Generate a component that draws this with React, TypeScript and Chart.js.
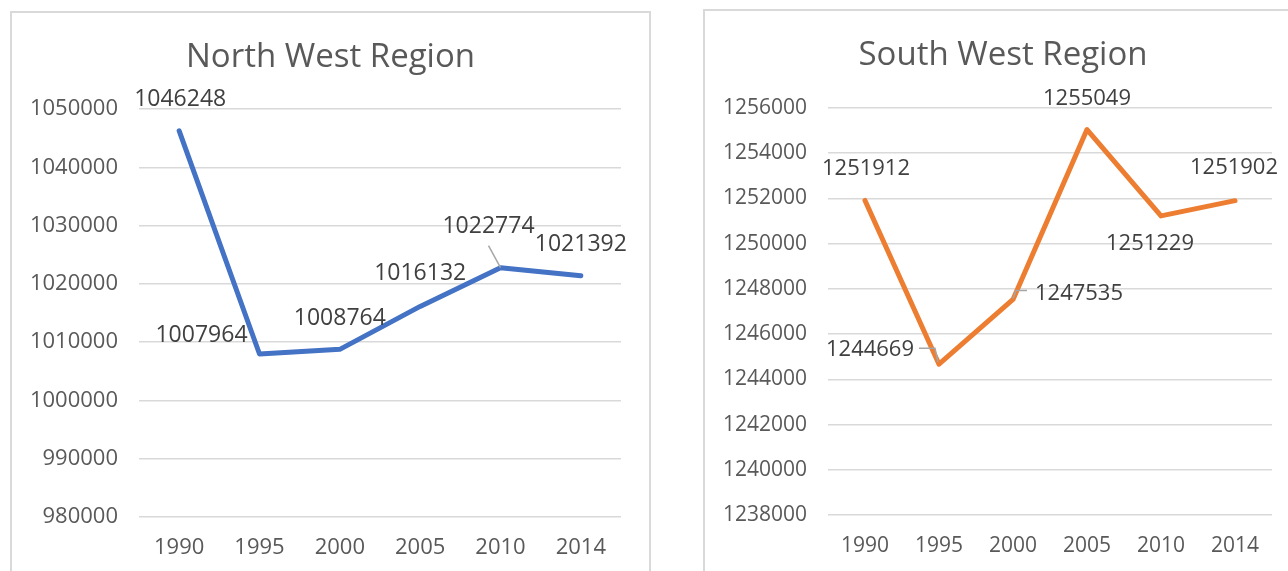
import React, { useEffect, useRef } from "react";
import { Chart, registerables } from "chart.js";

Chart.register(...registerables);

const years = ["1990", "1995", "2000", "2005", "2010", "2014"];
const northWestValues = [1046248, 1007964, 1008764, 1016132, 1022774, 1021392];
const southWestValues = [1251912, 1244669, 1247535, 1255049, 1251229, 1251902];

const northWestTitle = "North West Region";
const southWestTitle = "South West Region";

// label placement (style only): dx, dy from the point, plus optional leader polyline (relative to point)
const northWestLabelOffsets = [
  { dx: 1, dy: -31 },
  { dx: -58, dy: -19 },
  { dx: 0, dy: -31 },
  { dx: 0, dy: -33 },
  { dx: -12, dy: -41, leader: [[-12, -22], [0, 0]] },
  { dx: 0, dy: -31 },
];
const southWestLabelOffsets = [
  { dx: 1, dy: -32 },
  { dx: -69, dy: -14, leader: [[-20, -16], [-4, -16], [-1, -2]] },
  { dx: 66, dy: -6, leader: [[0, -1], [3, -9], [14, -9]] },
  { dx: 0, dy: -31 },
  { dx: -11, dy: 28 },
  { dx: -1, dy: -33 },
];

const FONT = "'Open Sans', 'Liberation Sans', sans-serif";

const dataLabelPlugin = {
  id: "excelDataLabels",
  afterDatasetsDraw(chart: any, _args: any, opts: any) {
    const ctx = chart.ctx;
    const meta = chart.getDatasetMeta(0);
    const values = chart.data.datasets[0].data as number[];
    const offsets = opts.offsets || [];
    ctx.save();
    meta.data.forEach((pt: any, i: number) => {
      const o = offsets[i] || { dx: 0, dy: -30 };
      if (o.leader) {
        ctx.beginPath();
        ctx.strokeStyle = "#a6a6a6";
        ctx.lineWidth = 1.5;
        o.leader.forEach((p: number[], k: number) => {
          const x = pt.x + p[0];
          const y = pt.y + p[1];
          if (k === 0) ctx.moveTo(x, y);
          else ctx.lineTo(x, y);
        });
        ctx.stroke();
      }
      ctx.font = `${opts.size}px ${FONT}`;
      ctx.fillStyle = "#404040";
      ctx.textAlign = "center";
      ctx.textBaseline = "middle";
      ctx.fillText(String(values[i]), pt.x + o.dx, pt.y + o.dy);
    });
    ctx.restore();
  },
};

// Excel-style title centred over the whole chart (canvas), not the plot area
const centredTitlePlugin = {
  id: "centredTitle",
  afterDraw(chart: any, _args: any, opts: any) {
    const ctx = chart.ctx;
    ctx.save();
    ctx.font = `${opts.size}px ${FONT}`;
    ctx.fillStyle = "#595959";
    ctx.textAlign = "center";
    ctx.textBaseline = "middle";
    ctx.fillText(opts.text, chart.width / 2, opts.y);
    ctx.restore();
  },
};

function makeConfig(
  title: string,
  values: number[],
  color: string,
  min: number,
  max: number,
  step: number,
  offsets: any[],
  yWidth: number,
  xHeight: number,
  padTop: number,
  padRight: number,
  fontSize: number,
  labelSize: number
): any {
  return {
    type: "line",
    data: {
      labels: years,
      datasets: [
        {
          data: values,
          borderColor: color,
          borderWidth: 5,
          pointRadius: 0,
          pointHoverRadius: 0,
          tension: 0,
          fill: false,
          borderCapStyle: "round",
          borderJoinStyle: "round",
        },
      ],
    },
    options: {
      animation: false,
      responsive: false,
      maintainAspectRatio: false,
      layout: { padding: { left: 0, right: padRight, top: padTop, bottom: 0 } },
      plugins: {
        legend: { display: false },
        tooltip: { enabled: false },
        title: { display: false },
        centredTitle: { text: title, size: 33, y: 45 },
        excelDataLabels: { offsets, size: labelSize },
      },
      scales: {
        x: {
          offset: true,
          grid: { display: false, drawTicks: false },
          border: { display: false },
          ticks: {
            color: "#595959",
            font: { family: FONT, size: fontSize },
            padding: 18,
            maxRotation: 0,
            autoSkip: false,
          },
          afterFit(scale: any) {
            scale.height = xHeight;
          },
        },
        y: {
          min,
          max,
          ticks: {
            stepSize: step,
            color: "#595959",
            font: { family: FONT, size: fontSize },
            padding: 21,
            callback: (v: any) => String(v),
          },
          grid: { color: "#d9d9d9", lineWidth: 1.5, drawTicks: false },
          border: { display: false },
          afterFit(scale: any) {
            scale.width = yWidth;
          },
        },
      },
    },
    plugins: [dataLabelPlugin, centredTitlePlugin],
  };
}

function Panel(props: {
  left: number;
  top: number;
  width: number;
  height: number;
  config: any;
}) {
  const ref = useRef<HTMLCanvasElement | null>(null);
  useEffect(() => {
    if (!ref.current) return;
    const chart = new Chart(ref.current, props.config);
    return () => chart.destroy();
  }, []);
  return (
    <div
      style={{
        position: "absolute",
        left: props.left,
        top: props.top,
        width: props.width,
        height: props.height,
        border: "2px solid #d9d9d9",
        boxSizing: "border-box",
        background: "#fff",
      }}
    >
      <canvas
        ref={ref}
        width={props.width - 4}
        height={props.height - 4}
        style={{ display: "block", width: props.width - 4, height: props.height - 4 }}
      />
    </div>
  );
}

export default function App() {
  const nw = makeConfig(
    northWestTitle,
    northWestValues,
    "#4472C4",
    980000,
    1050000,
    10000,
    northWestLabelOffsets,
    127,
    64,
    96,
    28,
    22,
    23
  );
  const sw = makeConfig(
    southWestTitle,
    southWestValues,
    "#ED7D31",
    1238000,
    1256000,
    2000,
    southWestLabelOffsets,
    123,
    67,
    97,
    29,
    21,
    22
  );
  return (
    <div
      style={{
        position: "fixed",
        left: 0,
        top: 0,
        width: 1288,
        height: 571,
        background: "#fff",
        overflow: "hidden",
      }}
    >
      <Panel left={10} top={11} width={641} height={572} config={nw} />
      <Panel left={703} top={9} width={600} height={575} config={sw} />
    </div>
  );
}
